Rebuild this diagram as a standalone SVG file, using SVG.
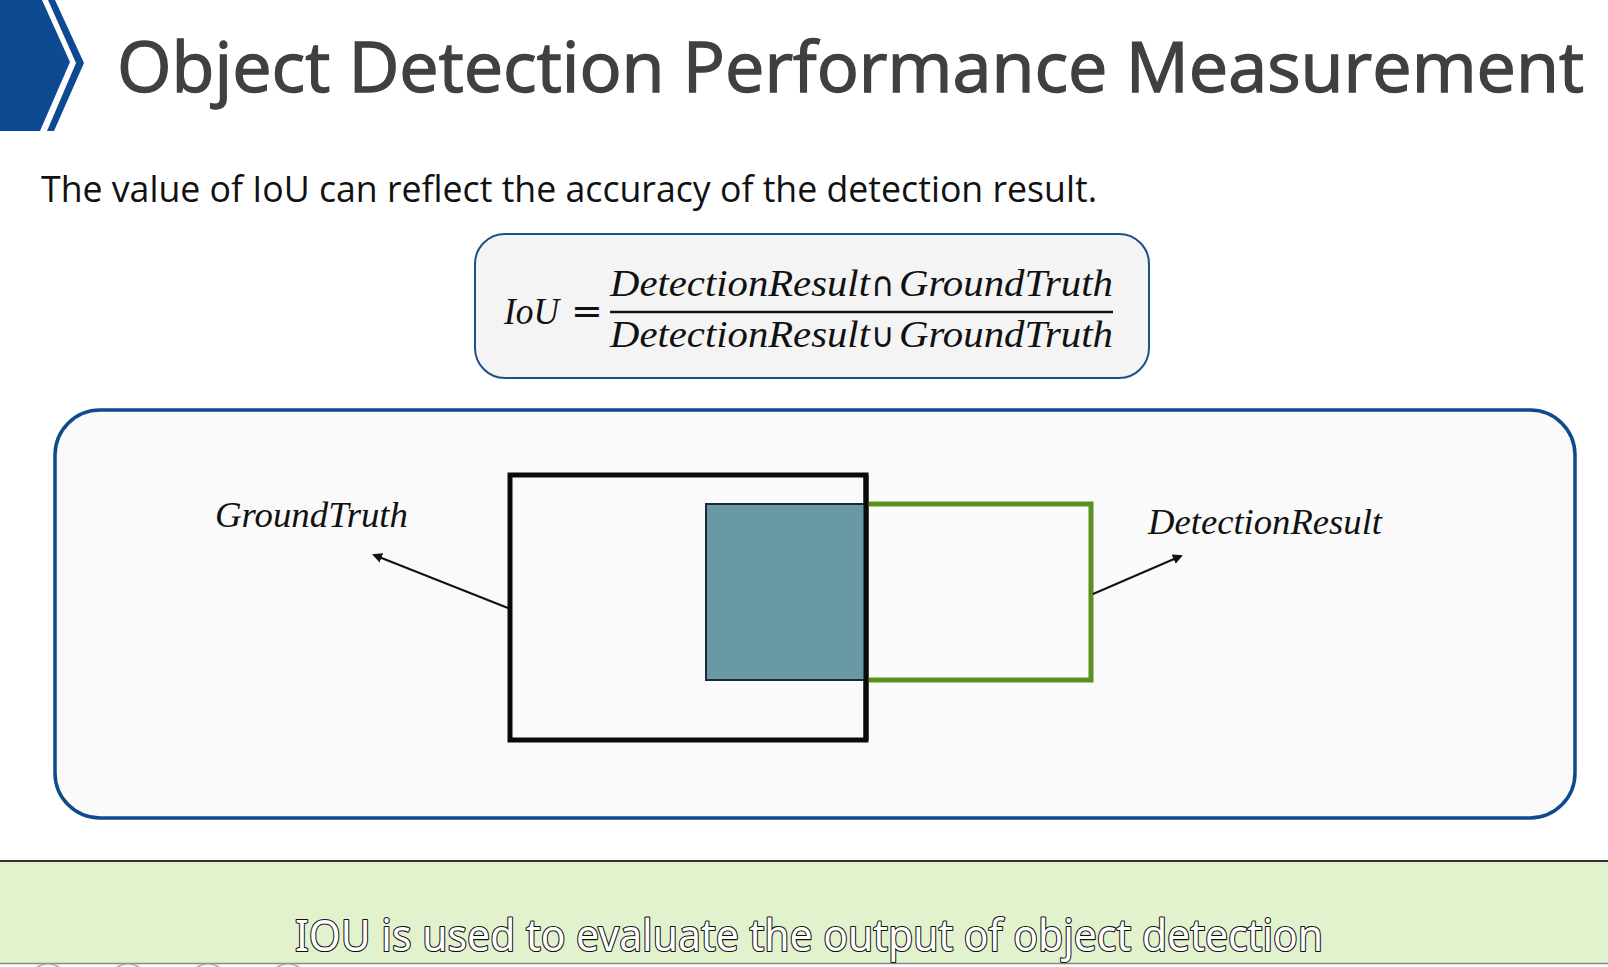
<svg xmlns="http://www.w3.org/2000/svg" width="1608" height="967" viewBox="0 0 1608 967">
<style>
.title{font-family:"Open Sans","Noto Sans",sans-serif;font-size:70px;fill:#404040;stroke:#404040;stroke-width:1.4px;font-weight:400}
.sub{font-family:"Open Sans","Noto Sans",sans-serif;font-size:37px;fill:#111}
.math{font-family:"Liberation Serif",serif;font-style:italic;font-size:38px;fill:#111}
.op{font-family:"DejaVu Sans",sans-serif;font-size:34px;fill:#111}
.mathup{font-family:"DejaVu Serif",serif;font-size:38px;fill:#111}
.lbl{font-family:"Liberation Serif",serif;font-style:italic;font-size:36px;fill:#111}
.cap{font-family:"Noto Sans","Open Sans",sans-serif;font-size:43px;fill:#fff;stroke:#111;stroke-width:2.2px;paint-order:stroke;stroke-linejoin:round}
.conn{stroke:#111;stroke-width:2;fill:none}
</style>
<defs>
<marker id="arr" viewBox="0 0 10 10" refX="8" refY="5" markerWidth="10" markerHeight="10" markerUnits="userSpaceOnUse" orient="auto">
<path d="M0,0 L10,5 L0,10 z" fill="#111"/>
</marker>
</defs>
<rect x="0" y="0" width="1608" height="967" fill="#ffffff"/>
<g id="header">
<polygon points="0,0 42,0 70,62 40,131 0,131" fill="#0e4a92"/>
<polygon points="48,0 55,0 84,63 54,131 47,131 76,63" fill="#0e4a92"/>
<text class="title" x="117" y="92" textLength="1467" lengthAdjust="spacingAndGlyphs">Object Detection Performance Measurement</text>
</g>
<text id="intro" class="sub" x="41" y="202" textLength="1056" lengthAdjust="spacingAndGlyphs">The value of IoU can reflect the accuracy of the detection result.</text>
<g id="formula">
<rect x="475" y="234" width="674" height="144" rx="30" fill="#f4f4f4" stroke="#1e4f8a" stroke-width="2"/>
<text class="math" x="504" y="324" textLength="55" lengthAdjust="spacingAndGlyphs">IoU</text>
<text class="mathup" x="571" y="324">=</text>
<text class="math" x="610" y="296" textLength="260" lengthAdjust="spacingAndGlyphs">DetectionResult</text>
<text class="op" x="871" y="296" textLength="24" lengthAdjust="spacingAndGlyphs">∩</text>
<text class="math" x="899" y="296" textLength="214" lengthAdjust="spacingAndGlyphs">GroundTruth</text>
<line x1="610" y1="312" x2="1113" y2="312" stroke="#111" stroke-width="2.5"/>
<text class="math" x="610" y="347" textLength="260" lengthAdjust="spacingAndGlyphs">DetectionResult</text>
<text class="op" x="871" y="347" textLength="24" lengthAdjust="spacingAndGlyphs">∪</text>
<text class="math" x="899" y="347" textLength="214" lengthAdjust="spacingAndGlyphs">GroundTruth</text>
</g>
<g id="panel">
<rect x="55" y="410" width="1520" height="408" rx="45" fill="#fafafa" stroke="#0e4a8c" stroke-width="3.5"/>
</g>
<g id="ground-truth">
<rect x="510" y="475" width="356" height="265" fill="none" stroke="#0a0a0a" stroke-width="5"/>
<text class="lbl" x="215" y="527" textLength="193" lengthAdjust="spacingAndGlyphs">GroundTruth</text>
</g>
<g id="detection-result">
<rect x="866" y="504" width="225" height="176" fill="none" stroke="#5b8f1f" stroke-width="5"/>
<text class="lbl" x="1148" y="534" textLength="234" lengthAdjust="spacingAndGlyphs">DetectionResult</text>
</g>
<g id="intersection">
<rect x="706" y="504" width="160" height="176" fill="#6899a4" stroke="#1a2a30" stroke-width="2"/>
<line x1="866" y1="475" x2="866" y2="740" stroke="#0a0a0a" stroke-width="5"/>
</g>
<g id="connectors">
<line class="conn" x1="508" y1="608" x2="374" y2="555" marker-end="url(#arr)"/>
<line class="conn" x1="1093" y1="594" x2="1181" y2="556" marker-end="url(#arr)"/>
</g>
<g id="caption">
<line x1="0" y1="861" x2="1608" y2="861" stroke="#333" stroke-width="2"/>
<rect x="0" y="862" width="1608" height="101" fill="#e2f2cd"/>
<line x1="0" y1="963.5" x2="1608" y2="963.5" stroke="#888" stroke-width="1.5"/>
<text class="cap" x="295" y="951" textLength="1028" lengthAdjust="spacingAndGlyphs">IOU is used to evaluate the output of object detection</text>
</g>
<g id="player-buttons" fill="#fff" stroke="#aaa" stroke-width="1.5">
<circle cx="48" cy="984" r="20"/>
<circle cx="128" cy="984" r="20"/>
<circle cx="208" cy="984" r="20"/>
<circle cx="288" cy="984" r="20"/>
</g>
</svg>
